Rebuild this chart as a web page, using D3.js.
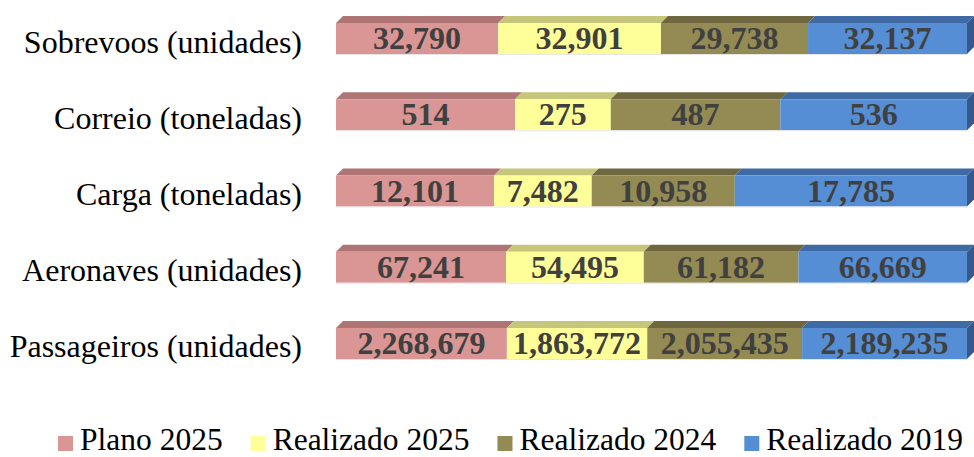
<!DOCTYPE html>
<html><head><meta charset="utf-8">
<script src="https://cdn.jsdelivr.net/npm/d3@7"></script>
<style>body{margin:0;background:#fff}svg{display:block}</style>
</head><body>
<svg id="c" width="974" height="457"></svg>
<script>
const categories = ["Sobrevoos (unidades)", "Correio (toneladas)", "Carga (toneladas)", "Aeronaves (unidades)", "Passageiros (unidades)"];
const seriesNames = ["Plano 2025", "Realizado 2025", "Realizado 2024", "Realizado 2019"];
const plano2025 = [32790, 514, 12101, 67241, 2268679];
const realizado2025 = [32901, 275, 7482, 54495, 1863772];
const realizado2024 = [29738, 487, 10958, 61182, 2055435];
const realizado2019 = [32137, 536, 17785, 66669, 2189235];
const frontColors = ["#da9694", "#ffff99", "#948a54", "#558ed5"];
const topColors = ["#ae7574", "#c6c67a", "#6f6740", "#3f6aa3"];
const sideColors = ["#9a6463", "#b5b56c", "#5f5837", "#35598a"];

const seriesVals = [plano2025, realizado2025, realizado2024, realizado2019];
const svg = d3.select("#c");
const x = d3.scaleLinear().domain([0, 1]).range([336, 967]);
const y = d3.scaleBand().domain(categories).range([23, 359]).paddingInner(0.5934).paddingOuter(0);
const dx = 7, dy = 7;
const fmt = d3.format(",");
const serif = "'Liberation Serif','Times New Roman',serif";

categories.forEach((cat, i) => {
  const vals = seriesVals.map(s => s[i]);
  const total = d3.sum(vals);
  let cum = 0;
  const y0 = y(cat), h = y.bandwidth();
  const g = svg.append("g");
  vals.forEach((v, k) => {
    const a = x(cum / total), b = x((cum + v) / total);
    cum += v;
    g.append("path").attr("d", `M${a},${y0}L${a+dx},${y0-dy}L${b+dx},${y0-dy}L${b},${y0}Z`).attr("fill", topColors[k]);
    g.append("rect").attr("x", a).attr("y", y0).attr("width", b - a).attr("height", h).attr("fill", frontColors[k]);
    if (k === vals.length - 1) {
      g.append("path").attr("d", `M${b},${y0}L${b+dx},${y0-dy}L${b+dx},${y0+h-dy}L${b},${y0+h}Z`).attr("fill", sideColors[k]);
    }
    g.append("text").attr("x", (a + b) / 2).attr("y", y0 + h / 2 + 10.5)
      .attr("text-anchor", "middle").attr("font-family", serif)
      .attr("font-weight", "bold").attr("font-size", 32).attr("fill", "#404040").text(fmt(v));
  });
  g.append("line").attr("x1", x(0)).attr("x2", x(1)).attr("y1", y0 + h + 0.5).attr("y2", y0 + h + 0.5).attr("stroke", "#e6e6e6").attr("stroke-width", 1);
  svg.append("text").attr("x", 302).attr("y", y0 + h / 2 + 14).attr("text-anchor", "end")
    .attr("font-family", serif).attr("font-size", 32).attr("fill", "#000").text(cat);
});

// legend
let lx = 58;
const ly = 436;
seriesNames.forEach((n, k) => {
  svg.append("rect").attr("x", lx).attr("y", ly).attr("width", 15).attr("height", 15).attr("fill", frontColors[k]);
  const t = svg.append("text").attr("x", lx + 22).attr("y", ly + 14)
    .attr("font-family", serif).attr("font-size", 31.5).attr("fill", "#000").text(n);
  lx += 22 + t.node().getComputedTextLength() + 28;
});
</script>
</body></html>
